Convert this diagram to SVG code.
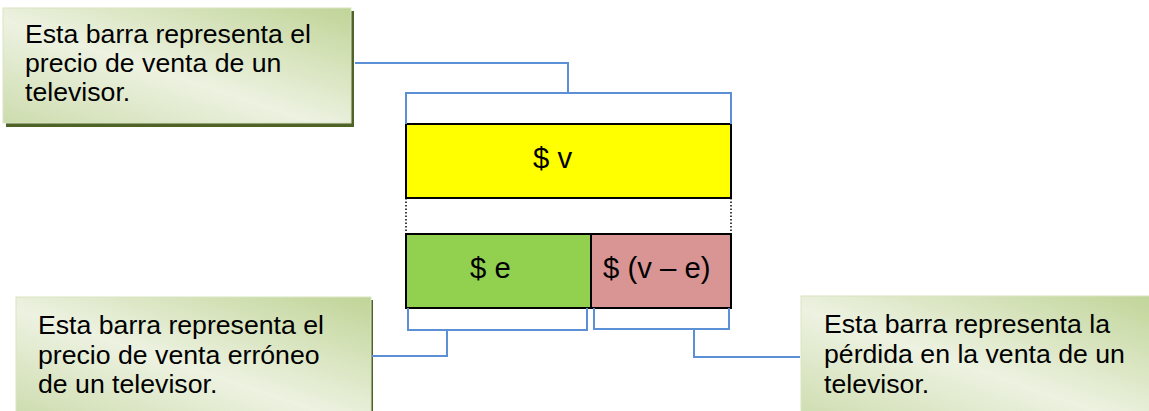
<svg xmlns="http://www.w3.org/2000/svg" width="1149" height="411" viewBox="0 0 1149 411">
<defs>
<linearGradient id="boxg" x1="1" y1="0" x2="0" y2="1">
<stop offset="0" stop-color="#c0d497"/>
<stop offset="0.55" stop-color="#edf2e1"/>
<stop offset="1" stop-color="#cddcae"/>
</linearGradient>
<style>
.box{fill:url(#boxg);stroke:#d9e5c2;stroke-width:1}
.shadow{fill:#4f6228}
.t{font-family:"Liberation Sans",Arial,sans-serif;font-size:26.67px;fill:#000}
.lbl{font-family:"Liberation Sans",Arial,sans-serif;font-size:29.3px;fill:#000}
.bar{stroke:#000;stroke-width:2}
.conn{fill:none;stroke:#5b8fd6;stroke-width:2}
.dot{fill:none;stroke:#000;stroke-width:1.5;stroke-dasharray:1.5 2}
</style>
</defs>
<g id="box-top">
<rect class="shadow" x="6" y="11" width="348" height="116"/>
<rect class="box" x="3" y="8" width="348" height="115"/>
<text class="t"><tspan x="25" y="43">Esta barra representa el</tspan><tspan x="25" y="72">precio de venta de un</tspan><tspan x="25" y="101">televisor.</tspan></text>
</g>
<g id="bar-v">
<rect class="bar" x="406" y="124" width="325" height="74" fill="#ffff00"/>
<text class="lbl" x="533" y="168">$ v</text>
</g>
<g id="bar-e">
<rect class="bar" x="406" y="234" width="185" height="74" fill="#92d050"/>
<text class="lbl" x="470" y="278">$ e</text>
</g>
<g id="bar-ve">
<rect class="bar" x="591" y="234" width="140" height="74" fill="#d99594"/>
<text class="lbl" x="603" y="278">$ (v – e)</text>
</g>
<g id="box-bottom-left">
<rect class="shadow" x="19" y="300" width="354" height="120"/>
<rect class="box" x="16" y="297" width="355" height="120"/>
<text class="t"><tspan x="38" y="334">Esta barra representa el</tspan><tspan x="38" y="364">precio de venta erróneo</tspan><tspan x="38" y="393">de un televisor.</tspan></text>
</g>
<g id="box-bottom-right">
<rect class="box" x="801" y="296" width="360" height="125"/>
<text class="t"><tspan x="824" y="333">Esta barra representa la</tspan><tspan x="824" y="363">pérdida en la venta de un</tspan><tspan x="824" y="393">televisor.</tspan></text>
</g>
<g id="connectors">
<path class="conn" d="M406 124 V93 H731 V124"/>
<path class="conn" d="M355 63 H568 V93"/>
<path class="dot" d="M406 198 V234 M731 198 V234"/>
<path class="conn" d="M408 308 V330 H587 V308"/>
<path class="conn" d="M447 330 V356 H372"/>
<path class="conn" d="M594 308 V329 H729 V308"/>
<path class="conn" d="M694 329 V357 H800"/>
</g>
</svg>
